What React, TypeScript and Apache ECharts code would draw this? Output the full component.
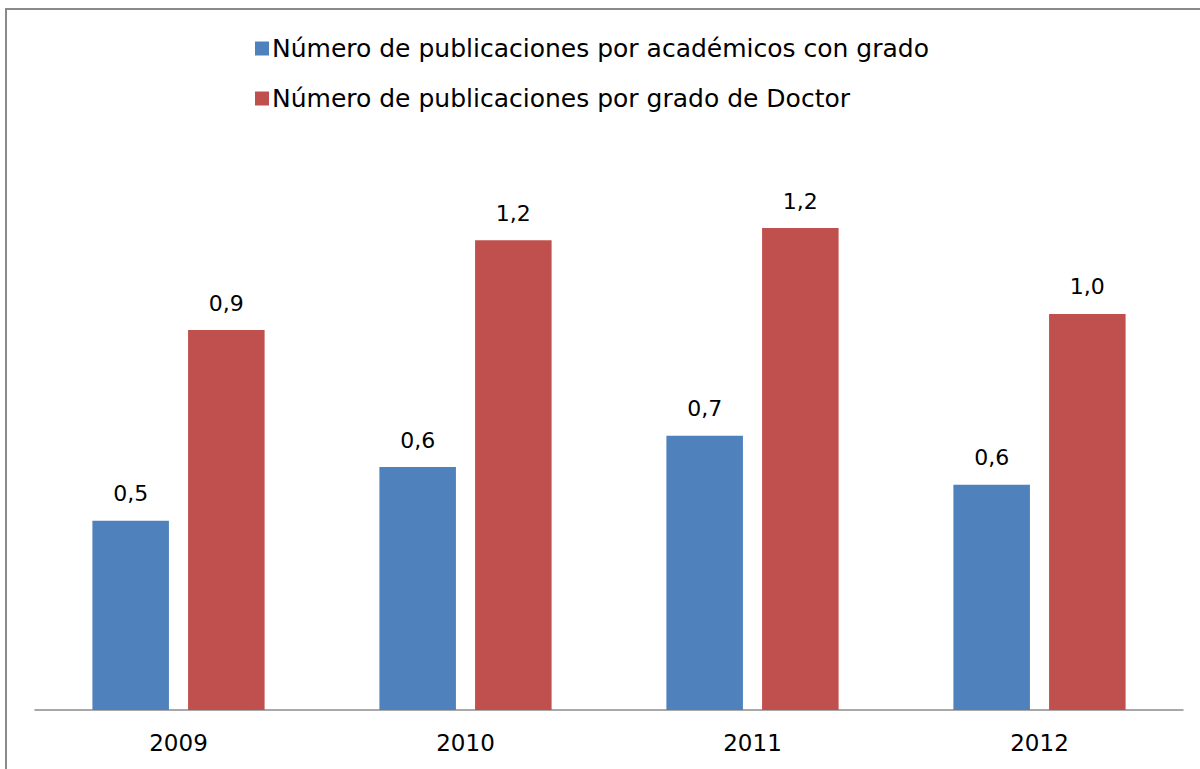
import React, { useEffect, useRef } from "react";
import * as echarts from "echarts";

const categories = ["2009", "2010", "2011", "2012"];
const seriesNames = [
  "Número de publicaciones por académicos con grado",
  "Número de publicaciones por grado de Doctor",
];
const academicos = [0.467, 0.6, 0.677, 0.556];
const doctores = [0.938, 1.16, 1.19, 0.978];

const FONT = "DejaVu Sans";

const fmt = (v: number) => v.toFixed(1).replace(".", ",");

export default function App() {
  const ref = useRef<HTMLDivElement>(null);
  useEffect(() => {
    if (!ref.current) return;
    const chart = echarts.init(ref.current, null, { renderer: "svg" });
    const label = {
      show: true,
      position: "top" as const,
      distance: 16,
      color: "#000",
      fontFamily: FONT,
      fontSize: 22,
      formatter: (p: any) => fmt(p.value as number),
    };
    chart.setOption({
      animation: false,
      backgroundColor: "#fff",
      textStyle: { fontFamily: FONT },
      graphic: [
        {
          type: "rect",
          shape: { x: 6, y: 9, width: 1300, height: 900 },
          style: { fill: "none", stroke: "#8a8a8a", lineWidth: 2 },
          silent: true,
        },
      ],
      legend: {
        orient: "vertical",
        left: 250,
        top: 31,
        itemWidth: 14,
        itemHeight: 14,
        itemGap: 25,
        icon: "rect",
        textStyle: { fontFamily: FONT, fontSize: 25, color: "#000", padding: [0, 0, 0, -2] },
        data: seriesNames,
      },
      grid: { left: 35, right: 17, top: 143, bottom: 59 },
      xAxis: {
        type: "category",
        data: categories,
        axisLine: { show: true, lineStyle: { color: "#8c8c8c", width: 1.5 } },
        axisTick: { show: false },
        axisLabel: { color: "#000", fontFamily: FONT, fontSize: 23, margin: 21 },
      },
      yAxis: {
        type: "value",
        min: 0,
        max: 1.4,
        show: false,
        splitLine: { show: false },
      },
      series: [
        {
          name: seriesNames[0],
          type: "bar",
          data: academicos,
          barGap: "25%",
          barCategoryGap: "40%",
          itemStyle: { color: "#4F81BD" },
          label,
        },
        {
          name: seriesNames[1],
          type: "bar",
          data: doctores,
          barGap: "25%",
          barCategoryGap: "40%",
          itemStyle: { color: "#C0504D" },
          label,
        },
      ],
    });
    return () => chart.dispose();
  }, []);
  return (
    <div
      ref={ref}
      style={{ position: "absolute", left: 0, top: 0, width: 1200, height: 769 }}
    />
  );
}
